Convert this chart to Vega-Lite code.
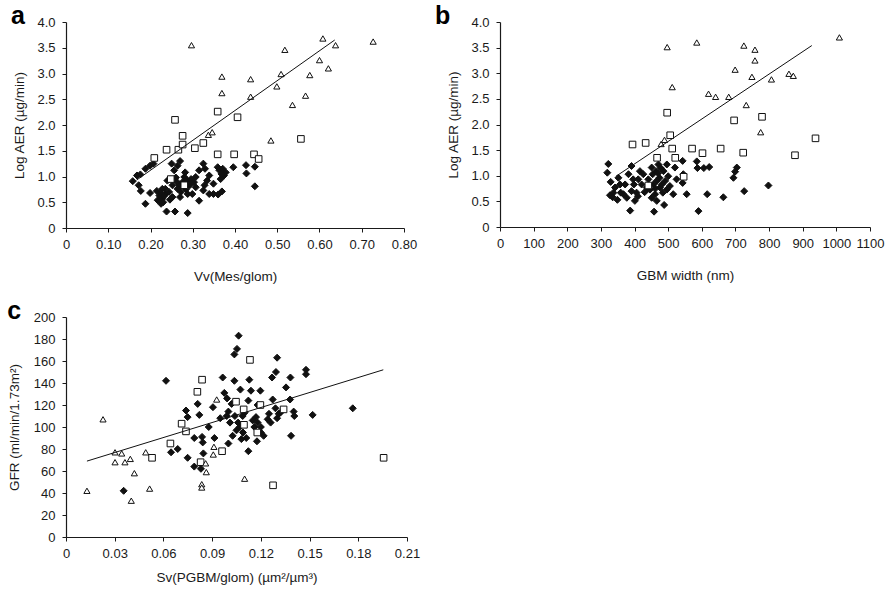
{
  "$schema": "https://vega.github.io/schema/vega-lite/v6.json",
  "background": "white",
  "padding": {"left": 7, "top": 4, "right": 5, "bottom": 5},
  "config": {
    "font": "Liberation Sans",
    "view": {"stroke": null},
    "axis": {
      "grid": false,
      "domainColor": "#1a1a1a",
      "domainWidth": 1.2,
      "tickColor": "#1a1a1a",
      "tickSize": 4,
      "labelColor": "#1a1a1a",
      "labelFontSize": 13,
      "labelOverlap": false,
      "labelBound": false,
      "labelFlush": false,
      "titleColor": "#1a1a1a",
      "titleFontSize": 13.5,
      "titleFontWeight": "normal"
    },
    "axisX": {"labelPadding": 6, "titlePadding": 18},
    "axisY": {"labelPadding": 7, "titlePadding": 10},
    "title": {
      "anchor": "start",
      "frame": "bounds",
      "fontSize": 25,
      "fontWeight": "bold",
      "color": "#000",
      "baseline": "alphabetic",
      "offset": -13
    },
    "point": {"opacity": 1}
  },
  "datasets": {
    "vvMes": [
      {"vv": 0.158, "aer": 0.91, "grp": "normo"}, {"vv": 0.168, "aer": 1.02, "grp": "normo"}, {"vv": 0.176, "aer": 1.04, "grp": "normo"},
      {"vv": 0.172, "aer": 0.83, "grp": "normo"}, {"vv": 0.177, "aer": 0.72, "grp": "normo"}, {"vv": 0.188, "aer": 1.15, "grp": "normo"},
      {"vv": 0.188, "aer": 0.47, "grp": "normo"}, {"vv": 0.199, "aer": 1.21, "grp": "normo"}, {"vv": 0.207, "aer": 1.25, "grp": "normo"},
      {"vv": 0.199, "aer": 0.68, "grp": "normo"}, {"vv": 0.215, "aer": 0.72, "grp": "normo"}, {"vv": 0.221, "aer": 0.63, "grp": "normo"},
      {"vv": 0.217, "aer": 0.54, "grp": "normo"}, {"vv": 0.225, "aer": 0.47, "grp": "normo"}, {"vv": 0.228, "aer": 0.57, "grp": "normo"},
      {"vv": 0.236, "aer": 0.66, "grp": "normo"}, {"vv": 0.235, "aer": 0.76, "grp": "normo"}, {"vv": 0.244, "aer": 0.70, "grp": "normo"},
      {"vv": 0.252, "aer": 0.60, "grp": "normo"}, {"vv": 0.238, "aer": 0.32, "grp": "normo"}, {"vv": 0.258, "aer": 0.32, "grp": "normo"},
      {"vv": 0.288, "aer": 0.29, "grp": "normo"}, {"vv": 0.250, "aer": 1.25, "grp": "normo"}, {"vv": 0.264, "aer": 1.21, "grp": "normo"},
      {"vv": 0.270, "aer": 1.30, "grp": "normo"}, {"vv": 0.256, "aer": 1.12, "grp": "normo"}, {"vv": 0.240, "aer": 0.92, "grp": "normo"},
      {"vv": 0.268, "aer": 0.83, "grp": "normo"}, {"vv": 0.276, "aer": 0.89, "grp": "normo"}, {"vv": 0.280, "aer": 0.99, "grp": "normo"},
      {"vv": 0.288, "aer": 0.92, "grp": "normo"}, {"vv": 0.296, "aer": 0.95, "grp": "normo"}, {"vv": 0.303, "aer": 0.89, "grp": "normo"},
      {"vv": 0.307, "aer": 0.99, "grp": "normo"}, {"vv": 0.288, "aer": 0.66, "grp": "normo"}, {"vv": 0.299, "aer": 0.66, "grp": "normo"},
      {"vv": 0.307, "aer": 0.79, "grp": "normo"}, {"vv": 0.315, "aer": 0.53, "grp": "normo"}, {"vv": 0.315, "aer": 1.12, "grp": "normo"},
      {"vv": 0.325, "aer": 1.25, "grp": "normo"}, {"vv": 0.329, "aer": 1.15, "grp": "normo"}, {"vv": 0.328, "aer": 0.83, "grp": "normo"},
      {"vv": 0.325, "aer": 0.73, "grp": "normo"}, {"vv": 0.339, "aer": 1.02, "grp": "normo"}, {"vv": 0.349, "aer": 0.86, "grp": "normo"},
      {"vv": 0.339, "aer": 0.66, "grp": "normo"}, {"vv": 0.349, "aer": 0.66, "grp": "normo"}, {"vv": 0.359, "aer": 1.18, "grp": "normo"},
      {"vv": 0.363, "aer": 1.12, "grp": "normo"}, {"vv": 0.371, "aer": 1.15, "grp": "normo"}, {"vv": 0.374, "aer": 1.02, "grp": "normo"},
      {"vv": 0.366, "aer": 0.95, "grp": "normo"}, {"vv": 0.378, "aer": 1.08, "grp": "normo"}, {"vv": 0.369, "aer": 0.71, "grp": "normo"},
      {"vv": 0.396, "aer": 1.18, "grp": "normo"}, {"vv": 0.426, "aer": 1.22, "grp": "normo"}, {"vv": 0.427, "aer": 1.06, "grp": "normo"},
      {"vv": 0.447, "aer": 1.19, "grp": "normo"}, {"vv": 0.447, "aer": 0.81, "grp": "normo"}, {"vv": 0.260, "aer": 0.98, "grp": "normo"},
      {"vv": 0.264, "aer": 0.76, "grp": "normo"}, {"vv": 0.252, "aer": 0.83, "grp": "normo"}, {"vv": 0.272, "aer": 0.70, "grp": "normo"},
      {"vv": 0.282, "aer": 1.08, "grp": "normo"}, {"vv": 0.293, "aer": 0.83, "grp": "normo"}, {"vv": 0.228, "aer": 0.76, "grp": "normo"},
      {"vv": 0.230, "aer": 0.50, "grp": "normo"}, {"vv": 0.246, "aer": 0.55, "grp": "normo"}, {"vv": 0.224, "aer": 0.68, "grp": "normo"},
      {"vv": 0.270, "aer": 0.60, "grp": "normo"}, {"vv": 0.284, "aer": 0.75, "grp": "normo"}, {"vv": 0.262, "aer": 0.90, "grp": "normo"},
      {"vv": 0.232, "aer": 0.62, "grp": "normo"}, {"vv": 0.368, "aer": 1.05, "grp": "normo"}, {"vv": 0.334, "aer": 0.92, "grp": "normo"},
      {"vv": 0.360, "aer": 0.65, "grp": "normo"},
      {"vv": 0.209, "aer": 1.36, "grp": "micro"}, {"vv": 0.238, "aer": 1.52, "grp": "micro"}, {"vv": 0.258, "aer": 2.10, "grp": "micro"},
      {"vv": 0.266, "aer": 1.52, "grp": "micro"}, {"vv": 0.276, "aer": 1.79, "grp": "micro"}, {"vv": 0.276, "aer": 1.62, "grp": "micro"},
      {"vv": 0.305, "aer": 1.55, "grp": "micro"}, {"vv": 0.325, "aer": 1.65, "grp": "micro"}, {"vv": 0.359, "aer": 2.26, "grp": "micro"},
      {"vv": 0.359, "aer": 1.43, "grp": "micro"}, {"vv": 0.406, "aer": 2.15, "grp": "micro"}, {"vv": 0.398, "aer": 1.43, "grp": "micro"},
      {"vv": 0.445, "aer": 1.43, "grp": "micro"}, {"vv": 0.456, "aer": 1.34, "grp": "micro"}, {"vv": 0.556, "aer": 1.73, "grp": "micro"},
      {"vv": 0.248, "aer": 0.95, "grp": "micro"}, {"vv": 0.280, "aer": 0.83, "grp": "micro"},
      {"vv": 0.297, "aer": 3.55, "grp": "macro"}, {"vv": 0.369, "aer": 2.94, "grp": "macro"}, {"vv": 0.369, "aer": 2.62, "grp": "macro"},
      {"vv": 0.437, "aer": 2.89, "grp": "macro"}, {"vv": 0.437, "aer": 2.55, "grp": "macro"}, {"vv": 0.337, "aer": 1.81, "grp": "macro"},
      {"vv": 0.346, "aer": 1.86, "grp": "macro"}, {"vv": 0.485, "aer": 1.70, "grp": "macro"}, {"vv": 0.499, "aer": 2.75, "grp": "macro"},
      {"vv": 0.509, "aer": 2.99, "grp": "macro"}, {"vv": 0.518, "aer": 3.46, "grp": "macro"}, {"vv": 0.536, "aer": 2.39, "grp": "macro"},
      {"vv": 0.567, "aer": 2.57, "grp": "macro"}, {"vv": 0.577, "aer": 2.97, "grp": "macro"}, {"vv": 0.600, "aer": 3.26, "grp": "macro"},
      {"vv": 0.608, "aer": 3.68, "grp": "macro"}, {"vv": 0.621, "aer": 3.10, "grp": "macro"}, {"vv": 0.638, "aer": 3.55, "grp": "macro"},
      {"vv": 0.727, "aer": 3.62, "grp": "macro"}
    ],
    "vvFit": [{"vv": 0.167, "aer": 0.93}, {"vv": 0.636, "aer": 3.65}],
    "gbm": [
      {"w": 322, "aer": 1.23, "grp": "normo"}, {"w": 319, "aer": 1.06, "grp": "normo"}, {"w": 329, "aer": 0.88, "grp": "normo"},
      {"w": 327, "aer": 0.62, "grp": "normo"}, {"w": 352, "aer": 0.96, "grp": "normo"}, {"w": 342, "aer": 0.77, "grp": "normo"},
      {"w": 349, "aer": 0.53, "grp": "normo"}, {"w": 359, "aer": 0.67, "grp": "normo"}, {"w": 372, "aer": 0.83, "grp": "normo"},
      {"w": 387, "aer": 0.32, "grp": "normo"}, {"w": 391, "aer": 1.19, "grp": "normo"}, {"w": 382, "aer": 1.03, "grp": "normo"},
      {"w": 396, "aer": 0.93, "grp": "normo"}, {"w": 401, "aer": 0.51, "grp": "normo"}, {"w": 406, "aer": 0.67, "grp": "normo"},
      {"w": 416, "aer": 1.09, "grp": "normo"}, {"w": 421, "aer": 0.83, "grp": "normo"}, {"w": 436, "aer": 0.77, "grp": "normo"},
      {"w": 441, "aer": 0.93, "grp": "normo"}, {"w": 451, "aer": 1.16, "grp": "normo"}, {"w": 454, "aer": 1.03, "grp": "normo"},
      {"w": 456, "aer": 0.83, "grp": "normo"}, {"w": 461, "aer": 0.64, "grp": "normo"}, {"w": 458, "aer": 0.30, "grp": "normo"},
      {"w": 466, "aer": 0.51, "grp": "normo"}, {"w": 471, "aer": 1.22, "grp": "normo"}, {"w": 474, "aer": 0.96, "grp": "normo"},
      {"w": 476, "aer": 0.77, "grp": "normo"}, {"w": 486, "aer": 1.09, "grp": "normo"}, {"w": 488, "aer": 0.43, "grp": "normo"},
      {"w": 491, "aer": 0.90, "grp": "normo"}, {"w": 496, "aer": 1.22, "grp": "normo"}, {"w": 500, "aer": 0.99, "grp": "normo"},
      {"w": 505, "aer": 0.80, "grp": "normo"}, {"w": 515, "aer": 0.64, "grp": "normo"}, {"w": 520, "aer": 1.16, "grp": "normo"},
      {"w": 525, "aer": 0.93, "grp": "normo"}, {"w": 543, "aer": 1.29, "grp": "normo"}, {"w": 545, "aer": 1.03, "grp": "normo"},
      {"w": 543, "aer": 0.86, "grp": "normo"}, {"w": 555, "aer": 0.64, "grp": "normo"}, {"w": 585, "aer": 1.28, "grp": "normo"},
      {"w": 587, "aer": 1.15, "grp": "normo"}, {"w": 606, "aer": 1.15, "grp": "normo"}, {"w": 622, "aer": 1.17, "grp": "normo"},
      {"w": 590, "aer": 0.31, "grp": "normo"}, {"w": 616, "aer": 0.64, "grp": "normo"}, {"w": 664, "aer": 0.58, "grp": "normo"},
      {"w": 704, "aer": 1.16, "grp": "normo"}, {"w": 699, "aer": 1.08, "grp": "normo"}, {"w": 694, "aer": 0.96, "grp": "normo"},
      {"w": 726, "aer": 0.70, "grp": "normo"}, {"w": 798, "aer": 0.81, "grp": "normo"}, {"w": 337, "aer": 0.67, "grp": "normo"},
      {"w": 357, "aer": 0.83, "grp": "normo"}, {"w": 367, "aer": 0.64, "grp": "normo"}, {"w": 377, "aer": 0.57, "grp": "normo"},
      {"w": 391, "aer": 0.70, "grp": "normo"}, {"w": 398, "aer": 0.83, "grp": "normo"}, {"w": 411, "aer": 0.93, "grp": "normo"},
      {"w": 426, "aer": 1.03, "grp": "normo"}, {"w": 446, "aer": 0.73, "grp": "normo"}, {"w": 451, "aer": 0.57, "grp": "normo"},
      {"w": 464, "aer": 1.09, "grp": "normo"}, {"w": 466, "aer": 0.90, "grp": "normo"}, {"w": 481, "aer": 0.83, "grp": "normo"},
      {"w": 484, "aer": 0.67, "grp": "normo"}, {"w": 496, "aer": 0.73, "grp": "normo"}, {"w": 470, "aer": 1.05, "grp": "normo"},
      {"w": 462, "aer": 0.75, "grp": "normo"}, {"w": 478, "aer": 1.15, "grp": "normo"}, {"w": 410, "aer": 0.60, "grp": "normo"},
      {"w": 335, "aer": 0.58, "grp": "normo"}, {"w": 430, "aer": 0.68, "grp": "normo"},
      {"w": 394, "aer": 1.61, "grp": "micro"}, {"w": 433, "aer": 1.64, "grp": "micro"}, {"w": 497, "aer": 2.23, "grp": "micro"},
      {"w": 506, "aer": 1.79, "grp": "micro"}, {"w": 467, "aer": 1.35, "grp": "micro"}, {"w": 512, "aer": 1.53, "grp": "micro"},
      {"w": 521, "aer": 1.35, "grp": "micro"}, {"w": 571, "aer": 1.53, "grp": "micro"}, {"w": 602, "aer": 1.44, "grp": "micro"},
      {"w": 656, "aer": 1.53, "grp": "micro"}, {"w": 696, "aer": 2.08, "grp": "micro"}, {"w": 723, "aer": 1.45, "grp": "micro"},
      {"w": 779, "aer": 2.15, "grp": "micro"}, {"w": 877, "aer": 1.40, "grp": "micro"}, {"w": 938, "aer": 1.73, "grp": "micro"},
      {"w": 546, "aer": 0.98, "grp": "micro"}, {"w": 441, "aer": 0.81, "grp": "micro"},
      {"w": 497, "aer": 3.51, "grp": "macro"}, {"w": 585, "aer": 3.60, "grp": "macro"}, {"w": 512, "aer": 2.73, "grp": "macro"},
      {"w": 620, "aer": 2.60, "grp": "macro"}, {"w": 641, "aer": 2.54, "grp": "macro"}, {"w": 680, "aer": 2.54, "grp": "macro"},
      {"w": 699, "aer": 3.07, "grp": "macro"}, {"w": 725, "aer": 3.54, "grp": "macro"}, {"w": 758, "aer": 3.46, "grp": "macro"},
      {"w": 758, "aer": 3.25, "grp": "macro"}, {"w": 749, "aer": 2.93, "grp": "macro"}, {"w": 732, "aer": 2.38, "grp": "macro"},
      {"w": 807, "aer": 2.88, "grp": "macro"}, {"w": 775, "aer": 1.85, "grp": "macro"}, {"w": 859, "aer": 2.99, "grp": "macro"},
      {"w": 872, "aer": 2.95, "grp": "macro"}, {"w": 1009, "aer": 3.70, "grp": "macro"}, {"w": 479, "aer": 1.62, "grp": "macro"},
      {"w": 489, "aer": 1.70, "grp": "macro"}
    ],
    "gbmFit": [{"w": 345, "aer": 0.99}, {"w": 927, "aer": 3.54}],
    "sv": [
      {"sv": 0.0355, "gfr": 42, "grp": "normo"}, {"sv": 0.0616, "gfr": 142, "grp": "normo"}, {"sv": 0.0647, "gfr": 77, "grp": "normo"},
      {"sv": 0.0688, "gfr": 80, "grp": "normo"}, {"sv": 0.0739, "gfr": 115, "grp": "normo"}, {"sv": 0.0749, "gfr": 109, "grp": "normo"},
      {"sv": 0.0749, "gfr": 72, "grp": "normo"}, {"sv": 0.0790, "gfr": 64, "grp": "normo"}, {"sv": 0.0790, "gfr": 90, "grp": "normo"},
      {"sv": 0.0811, "gfr": 121, "grp": "normo"}, {"sv": 0.0821, "gfr": 111, "grp": "normo"}, {"sv": 0.0838, "gfr": 91, "grp": "normo"},
      {"sv": 0.0842, "gfr": 86, "grp": "normo"}, {"sv": 0.0846, "gfr": 76, "grp": "normo"}, {"sv": 0.0831, "gfr": 62, "grp": "normo"},
      {"sv": 0.0879, "gfr": 100, "grp": "normo"}, {"sv": 0.0905, "gfr": 118, "grp": "normo"}, {"sv": 0.0914, "gfr": 90, "grp": "normo"},
      {"sv": 0.0965, "gfr": 145, "grp": "normo"}, {"sv": 0.0975, "gfr": 131, "grp": "normo"}, {"sv": 0.0992, "gfr": 126, "grp": "normo"},
      {"sv": 0.1000, "gfr": 114, "grp": "normo"}, {"sv": 0.1000, "gfr": 85, "grp": "normo"}, {"sv": 0.1026, "gfr": 92, "grp": "normo"},
      {"sv": 0.1037, "gfr": 142, "grp": "normo"}, {"sv": 0.1037, "gfr": 166, "grp": "normo"}, {"sv": 0.1053, "gfr": 171, "grp": "normo"},
      {"sv": 0.1063, "gfr": 183, "grp": "normo"}, {"sv": 0.1074, "gfr": 134, "grp": "normo"}, {"sv": 0.1088, "gfr": 110, "grp": "normo"},
      {"sv": 0.1123, "gfr": 124, "grp": "normo"}, {"sv": 0.1129, "gfr": 143, "grp": "normo"}, {"sv": 0.1139, "gfr": 133, "grp": "normo"},
      {"sv": 0.1170, "gfr": 109, "grp": "normo"}, {"sv": 0.1123, "gfr": 78, "grp": "normo"}, {"sv": 0.1176, "gfr": 87, "grp": "normo"},
      {"sv": 0.1197, "gfr": 133, "grp": "normo"}, {"sv": 0.1200, "gfr": 100, "grp": "normo"}, {"sv": 0.1217, "gfr": 92, "grp": "normo"},
      {"sv": 0.1242, "gfr": 107, "grp": "normo"}, {"sv": 0.1269, "gfr": 145, "grp": "normo"}, {"sv": 0.1273, "gfr": 125, "grp": "normo"},
      {"sv": 0.1293, "gfr": 150, "grp": "normo"}, {"sv": 0.1300, "gfr": 163, "grp": "normo"}, {"sv": 0.1320, "gfr": 113, "grp": "normo"},
      {"sv": 0.1355, "gfr": 136, "grp": "normo"}, {"sv": 0.1382, "gfr": 145, "grp": "normo"}, {"sv": 0.1380, "gfr": 125, "grp": "normo"},
      {"sv": 0.1386, "gfr": 92, "grp": "normo"}, {"sv": 0.1402, "gfr": 114, "grp": "normo"}, {"sv": 0.1406, "gfr": 110, "grp": "normo"},
      {"sv": 0.1478, "gfr": 152, "grp": "normo"}, {"sv": 0.1478, "gfr": 148, "grp": "normo"}, {"sv": 0.1519, "gfr": 111, "grp": "normo"},
      {"sv": 0.1766, "gfr": 117, "grp": "normo"}, {"sv": 0.0990, "gfr": 110, "grp": "normo"}, {"sv": 0.1010, "gfr": 104, "grp": "normo"},
      {"sv": 0.1040, "gfr": 110, "grp": "normo"}, {"sv": 0.1050, "gfr": 97, "grp": "normo"}, {"sv": 0.1060, "gfr": 104, "grp": "normo"},
      {"sv": 0.1070, "gfr": 100, "grp": "normo"}, {"sv": 0.1090, "gfr": 95, "grp": "normo"}, {"sv": 0.1110, "gfr": 90, "grp": "normo"},
      {"sv": 0.1150, "gfr": 106, "grp": "normo"}, {"sv": 0.1160, "gfr": 100, "grp": "normo"}, {"sv": 0.1180, "gfr": 104, "grp": "normo"},
      {"sv": 0.1250, "gfr": 112, "grp": "normo"}, {"sv": 0.1260, "gfr": 104, "grp": "normo"}, {"sv": 0.1290, "gfr": 117, "grp": "normo"},
      {"sv": 0.1300, "gfr": 108, "grp": "normo"}, {"sv": 0.1310, "gfr": 112, "grp": "normo"}, {"sv": 0.1100, "gfr": 113, "grp": "normo"},
      {"sv": 0.1020, "gfr": 121, "grp": "normo"}, {"sv": 0.1080, "gfr": 89, "grp": "normo"}, {"sv": 0.0950, "gfr": 108, "grp": "normo"},
      {"sv": 0.1200, "gfr": 95, "grp": "normo"}, {"sv": 0.1180, "gfr": 120, "grp": "normo"},
      {"sv": 0.0530, "gfr": 72, "grp": "micro"}, {"sv": 0.0643, "gfr": 85, "grp": "micro"}, {"sv": 0.0712, "gfr": 103, "grp": "micro"},
      {"sv": 0.0739, "gfr": 96, "grp": "micro"}, {"sv": 0.0809, "gfr": 132, "grp": "micro"}, {"sv": 0.0838, "gfr": 143, "grp": "micro"},
      {"sv": 0.0829, "gfr": 68, "grp": "micro"}, {"sv": 0.0961, "gfr": 78, "grp": "micro"}, {"sv": 0.1047, "gfr": 123, "grp": "micro"},
      {"sv": 0.1094, "gfr": 116, "grp": "micro"}, {"sv": 0.1096, "gfr": 102, "grp": "micro"}, {"sv": 0.1133, "gfr": 161, "grp": "micro"},
      {"sv": 0.1178, "gfr": 95, "grp": "micro"}, {"sv": 0.1197, "gfr": 120, "grp": "micro"}, {"sv": 0.1275, "gfr": 47, "grp": "micro"},
      {"sv": 0.1340, "gfr": 116, "grp": "micro"}, {"sv": 0.1956, "gfr": 72, "grp": "micro"},
      {"sv": 0.0129, "gfr": 42, "grp": "macro"}, {"sv": 0.0228, "gfr": 107, "grp": "macro"}, {"sv": 0.0302, "gfr": 77, "grp": "macro"},
      {"sv": 0.0302, "gfr": 68, "grp": "macro"}, {"sv": 0.0343, "gfr": 76, "grp": "macro"}, {"sv": 0.0363, "gfr": 68, "grp": "macro"},
      {"sv": 0.0396, "gfr": 71, "grp": "macro"}, {"sv": 0.0421, "gfr": 58, "grp": "macro"}, {"sv": 0.0402, "gfr": 33, "grp": "macro"},
      {"sv": 0.0491, "gfr": 77, "grp": "macro"}, {"sv": 0.0515, "gfr": 44, "grp": "macro"}, {"sv": 0.0836, "gfr": 48, "grp": "macro"},
      {"sv": 0.0836, "gfr": 45, "grp": "macro"}, {"sv": 0.0860, "gfr": 67, "grp": "macro"}, {"sv": 0.0864, "gfr": 59, "grp": "macro"},
      {"sv": 0.0911, "gfr": 82, "grp": "macro"}, {"sv": 0.0907, "gfr": 75, "grp": "macro"}, {"sv": 0.0928, "gfr": 125, "grp": "macro"},
      {"sv": 0.1100, "gfr": 53, "grp": "macro"}
    ],
    "svFit": [{"sv": 0.0129, "gfr": 69}, {"sv": 0.1954, "gfr": 152}]
  },
  "spacing": 16,
  "vconcat": [
    {
      "spacing": 17,
      "hconcat": [
        {
          "title": {"text": "a", "dx": -2},
          "width": 338,
          "height": 206,
          "encoding": {
            "x": {"field": "vv", "type": "quantitative", "title": "Vv(Mes/glom)",
                  "scale": {"domain": [0, 0.8], "nice": false},
                  "axis": {"values": [0, 0.1, 0.2, 0.3, 0.4, 0.5, 0.6, 0.7, 0.8],
                           "labelExpr": "datum.value === 0 ? '0' : format(datum.value, '.2f')"}},
            "y": {"field": "aer", "type": "quantitative", "title": "Log AER (µg/min)",
                  "scale": {"domain": [0, 4], "nice": false},
                  "axis": {"values": [0, 0.5, 1, 1.5, 2, 2.5, 3, 3.5, 4],
                           "labelExpr": "datum.value === 0 ? '0' : format(datum.value, '.1f')"}}
          },
          "layer": [
            {
              "data": {"name": "vvMes"},
              "mark": {"type": "point", "filled": true, "stroke": "#111", "strokeWidth": 1},
              "encoding": {
                "shape": {"field": "grp", "type": "nominal", "legend": null,
                          "scale": {"domain": ["normo", "micro", "macro"], "range": ["diamond", "square", "triangle-up"]}},
                "fill": {"field": "grp", "type": "nominal", "legend": null,
                         "scale": {"domain": ["normo", "micro", "macro"], "range": ["#111", "#fff", "#fff"]}},
                "size": {"field": "grp", "type": "nominal", "legend": null,
                         "scale": {"domain": ["normo", "micro", "macro"], "range": [49, 38, 68]}}
              }
            },
            {
              "data": {"name": "vvFit"},
              "mark": {"type": "line", "color": "#111", "strokeWidth": 1},
              "encoding": {}
            }
          ]
        },
        {
          "title": {"text": "b", "dx": -12},
          "width": 370,
          "height": 205,
          "encoding": {
            "x": {"field": "w", "type": "quantitative", "title": "GBM width (nm)",
                  "scale": {"domain": [0, 1100], "nice": false},
                  "axis": {"values": [0, 100, 200, 300, 400, 500, 600, 700, 800, 900, 1000, 1100], "format": "d"}},
            "y": {"field": "aer", "type": "quantitative", "title": "Log AER (µg/min)",
                  "scale": {"domain": [0, 4], "nice": false},
                  "axis": {"values": [0, 0.5, 1, 1.5, 2, 2.5, 3, 3.5, 4],
                           "labelExpr": "datum.value === 0 ? '0' : format(datum.value, '.1f')"}}
          },
          "layer": [
            {
              "data": {"name": "gbm"},
              "mark": {"type": "point", "filled": true, "stroke": "#111", "strokeWidth": 1},
              "encoding": {
                "shape": {"field": "grp", "type": "nominal", "legend": null,
                          "scale": {"domain": ["normo", "micro", "macro"], "range": ["diamond", "square", "triangle-up"]}},
                "fill": {"field": "grp", "type": "nominal", "legend": null,
                         "scale": {"domain": ["normo", "micro", "macro"], "range": ["#111", "#fff", "#fff"]}},
                "size": {"field": "grp", "type": "nominal", "legend": null,
                         "scale": {"domain": ["normo", "micro", "macro"], "range": [49, 44, 68]}}
              }
            },
            {
              "data": {"name": "gbmFit"},
              "mark": {"type": "line", "color": "#111", "strokeWidth": 1},
              "encoding": {}
            }
          ]
        }
      ]
    },
    {
      "title": {"text": "c", "dx": 0},
      "width": 341,
      "height": 220,
      "encoding": {
        "x": {"field": "sv", "type": "quantitative", "title": "Sv(PGBM/glom) (µm²/µm³)",
              "scale": {"domain": [0, 0.21], "nice": false},
              "axis": {"values": [0, 0.03, 0.06, 0.09, 0.12, 0.15, 0.18, 0.21], "titlePadding": 10,
                       "labelExpr": "datum.value === 0 ? '0' : format(datum.value, '.2f')"}},
        "y": {"field": "gfr", "type": "quantitative", "title": "GFR (ml/min/1.73m²)",
              "scale": {"domain": [0, 200], "nice": false},
              "axis": {"values": [0, 20, 40, 60, 80, 100, 120, 140, 160, 180, 200], "titlePadding": 12}}
      },
      "layer": [
        {
          "data": {"name": "sv"},
          "mark": {"type": "point", "filled": true, "stroke": "#111", "strokeWidth": 1},
          "encoding": {
            "shape": {"field": "grp", "type": "nominal", "legend": null,
                      "scale": {"domain": ["normo", "micro", "macro"], "range": ["diamond", "square", "triangle-up"]}},
            "fill": {"field": "grp", "type": "nominal", "legend": null,
                     "scale": {"domain": ["normo", "micro", "macro"], "range": ["#111", "#fff", "#fff"]}},
            "size": {"field": "grp", "type": "nominal", "legend": null,
                     "scale": {"domain": ["normo", "micro", "macro"], "range": [55, 66, 68]}}
          }
        },
        {
          "data": {"name": "svFit"},
          "mark": {"type": "line", "color": "#111", "strokeWidth": 1},
          "encoding": {}
        }
      ]
    }
  ]
}
